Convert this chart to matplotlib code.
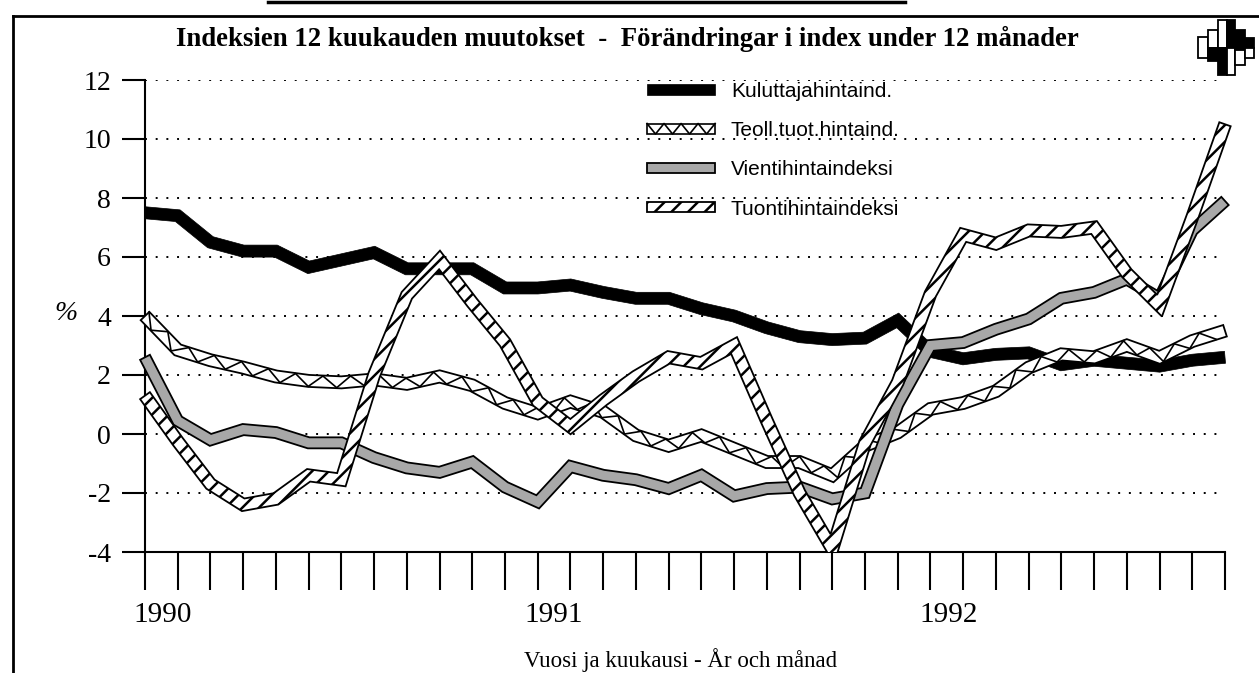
import numpy as np
import matplotlib
matplotlib.use("Agg")
import matplotlib.pyplot as plt
from matplotlib.patches import PathPatch, Rectangle
from matplotlib.path import Path
from matplotlib.lines import Line2D
from matplotlib.legend_handler import HandlerBase

plt.rcParams['axes.unicode_minus'] = False
plt.rcParams['hatch.linewidth'] = 1.8

# ---------------- data (Jan 1990 .. Oct 1992, monthly) ----------------
months = list(range(34))
year_labels = ['1990', '1991', '1992']
year_pos = [0.55, 12.5, 24.55]
y_ticks = [12, 10, 8, 6, 4, 2, 0, -2, -4]

series_names = ['Kuluttajahintaind.', 'Teoll.tuot.hintaind.',
                'Vientihintaindeksi', 'Tuontihintaindeksi']

kuluttaja = [7.5, 7.4, 6.5, 6.2, 6.2, 5.65, 5.9, 6.15, 5.6, 5.6, 5.6, 4.95,
             4.95, 5.05, 4.8, 4.6, 4.6, 4.25, 4.0, 3.6, 3.3, 3.2, 3.25, 3.85,
             2.8, 2.55, 2.7, 2.75, 2.35, 2.5, 2.4, 2.3, 2.5, 2.6]
teoll = [4.0, 2.85, 2.5, 2.25, 1.95, 1.8, 1.75, 1.85, 1.7, 1.95, 1.65, 1.05,
         0.7, 1.1, 0.75, -0.05, -0.4, -0.05, -0.5, -0.95, -0.95, -1.4, -0.4, 0.05,
         0.85, 1.05, 1.45, 2.25, 2.7, 2.6, 3.0, 2.6, 3.15, 3.5]
vienti = [2.6, 0.45, -0.2, 0.15, 0.05, -0.3, -0.3, -0.8, -1.15, -1.3, -0.95, -1.8,
          -2.3, -1.1, -1.4, -1.55, -1.85, -1.4, -2.1, -1.85, -1.8, -2.2, -2.0, 1.0,
          3.0, 3.1, 3.55, 3.9, 4.6, 4.8, 5.25, 4.6, 6.9, 7.9]
tuonti = [1.3, -0.25, -1.7, -2.4, -2.2, -1.4, -1.55, 2.0, 4.7, 5.9, 4.45, 3.1,
          1.1, 0.25, 1.15, 1.95, 2.6, 2.4, 3.0, 0.45, -2.0, -3.9, -0.3, 1.75,
          4.75, 6.75, 6.45, 6.9, 6.85, 7.0, 5.45, 4.35, 7.35, 10.5]

# ---------------- figure ----------------
W, H = 1259, 673
fig = plt.figure(figsize=(W / 100, H / 100), dpi=100)
fig.patch.set_facecolor('white')
ax = fig.add_axes([145 / W, 1 - 552 / H, 1080 / W, 472 / H])
ax.set_xlim(0, 33)
ax.set_ylim(-4, 12)

SERIF = ['Liberation Serif', 'DejaVu Serif']
SANS = ['Liberation Sans', 'DejaVu Sans']

for s in ['top', 'right']:
    ax.spines[s].set_visible(False)
ax.spines['left'].set_linewidth(1.5)
ax.spines['bottom'].set_linewidth(1.5)

ax.set_yticks(y_ticks)
ax.set_yticklabels([str(v) for v in y_ticks], fontfamily=SERIF, fontsize=20)
ax.tick_params(axis='y', direction='out', length=16.5, width=1.5, pad=8)
ax.set_xticks(year_pos)
ax.set_xticklabels(year_labels, fontfamily=SERIF, fontsize=21)
ax.set_xticks(months, minor=True)
ax.tick_params(axis='x', which='major', length=0, pad=36)
ax.tick_params(axis='x', which='minor', direction='out', length=27, width=1.5)
ax.yaxis.grid(True, linestyle=(0, (1, 4.5)), linewidth=1.4, color='black')
ax.set_axisbelow(True)

# clip region: whole axes, open to the left/right/top, closed at the -4 baseline
clip_box = Rectangle((-0.03, 0.0), 1.06, 1.3, transform=ax.transAxes,
                     facecolor='none', edgecolor='none')


def ribbon_geometry(xs, ys, width_px):
    P = ax.transData.transform(np.column_stack([xs, ys]))
    d = np.diff(P, axis=0)
    L = np.hypot(d[:, 0], d[:, 1])
    t = d / L[:, None]
    n = np.column_stack([-t[:, 1], t[:, 0]])
    h = width_px / 2.0
    off = np.empty_like(P)
    off[0] = n[0] * h
    off[-1] = n[-1] * h
    for k in range(1, len(P) - 1):
        m = n[k - 1] + n[k]
        mn = np.hypot(m[0], m[1])
        m = n[k] if mn < 1e-9 else m / mn
        c = max(float(np.dot(m, n[k])), 0.4)
        off[k] = m * h / c
    poly = np.vstack([P + off, (P - off)[::-1], (P + off)[:1]])
    return P, d, L, off, poly


inv = ax.transData.inverted()


def draw_ribbon(xs, ys, width_px, fc, hatch=None, z=3, lw=1.3, ec='black'):
    P, d, L, off, poly = ribbon_geometry(xs, ys, width_px)
    path = Path(inv.transform(poly), closed=True)
    patch = PathPatch(path, facecolor=fc, edgecolor=ec, hatch=hatch,
                      linewidth=lw, zorder=z, joinstyle='miter')
    ax.add_patch(patch)
    patch.set_clip_path(clip_box)
    return patch, (P, d, L, off)


def draw_zigzag(geom, half_period, z, lw=1.2):
    P, d, L, off = geom
    cum = np.concatenate([[0], np.cumsum(L)])
    ss = np.arange(0, cum[-1], half_period)
    pts = []
    for j, s in enumerate(ss):
        k = min(np.searchsorted(cum, s, side='right') - 1, len(L) - 1)
        f = (s - cum[k]) / L[k]
        c = P[k] + f * d[k]
        o = off[k] * (1 - f) + off[k + 1] * f
        sign = 1 if j % 2 == 0 else -1
        pts.append(c + sign * o * 0.92)
    pts = inv.transform(np.array(pts))
    zl = Line2D(pts[:, 0], pts[:, 1], color='black', lw=lw, zorder=z,
                solid_joinstyle='miter')
    ax.add_line(zl)
    zl.set_clip_path(clip_box)
    return zl


cpi_patch, _ = draw_ribbon(months, kuluttaja, 12, 'black', z=3, lw=0.5)
teoll_patch, teoll_geom = draw_ribbon(months, teoll, 12, 'white', z=4, lw=1.3)
teoll_zig = draw_zigzag(teoll_geom, 14, z=4.1)
vienti_patch, _ = draw_ribbon(months, vienti, 11, '#a8a8a8', z=5, lw=1.3)
tuonti_patch, _ = draw_ribbon(months, tuonti, 12, 'white', hatch='//', z=6, lw=1.3)


class HandlerZigzag(HandlerBase):
    def create_artists(self, legend, orig_handle, xdescent, ydescent,
                       width, height, fontsize, trans):
        x0, y0 = -xdescent, -ydescent
        rect = Rectangle((x0, y0), width, height, facecolor='white',
                         edgecolor='black', lw=1.2, transform=trans)
        n = 4
        zx = np.linspace(x0, x0 + width, 2 * n + 1)
        zy = np.where(np.arange(2 * n + 1) % 2 == 0, y0 + height, y0)
        line = Line2D(zx, zy, color='black', lw=1.2, transform=trans)
        return [rect, line]


leg = ax.legend([cpi_patch, teoll_zig, vienti_patch, tuonti_patch], series_names,
                handler_map={teoll_zig: HandlerZigzag()},
                loc='upper left', bbox_to_anchor=(647 / W, 1 - 82 / H),
                bbox_transform=fig.transFigure, frameon=False, borderpad=0,
                borderaxespad=0, handlelength=3.27, handleheight=0.4,
                handletextpad=0.75, labelspacing=0.97,
                prop={'family': SANS, 'size': 15})
leg.set_zorder(10)

# ---------------- texts ----------------
fig.text(627 / W, 1 - 39 / H,
         'Indeksien 12 kuukauden muutokset  -  Förändringar i index under 12 månader',
         ha='center', va='center', fontfamily=SERIF, fontweight='bold', fontsize=19.3)
fig.text(66 / W, 1 - 314 / H, '%', ha='center', va='center',
         fontfamily=SERIF, fontstyle='italic', fontsize=20)
fig.text(681 / W, 1 - 660 / H, 'Vuosi ja kuukausi - År och månad',
         ha='center', va='center', fontfamily=SERIF, fontsize=16.5)

# ---------------- frame & logo decoration ----------------
fig.add_artist(Line2D([13 / W, 13 / W], [0, 1 - 16 / H], transform=fig.transFigure,
                      color='black', lw=2))
fig.add_artist(Line2D([13 / W, 1], [1 - 16 / H, 1 - 16 / H], transform=fig.transFigure,
                      color='black', lw=2))
fig.add_artist(Line2D([268 / W, 905 / W], [1 - 1.5 / H, 1 - 1.5 / H],
                      transform=fig.transFigure, color='black', lw=2.5))


def logo_rect(x0, y0, x1, y1, fc):
    fig.add_artist(Rectangle((x0 / W, 1 - y1 / H), (x1 - x0) / W, (y1 - y0) / H,
                             transform=fig.transFigure, facecolor=fc,
                             edgecolor='black', lw=1.3))


logo_rect(1198, 37, 1208, 58, 'white')
logo_rect(1208, 30, 1218, 48, 'white')
logo_rect(1208, 48, 1218, 61, 'black')
logo_rect(1218, 20, 1227, 48, 'white')
logo_rect(1218, 48, 1227, 75, 'black')
logo_rect(1227, 20, 1235, 48, 'black')
logo_rect(1227, 48, 1235, 75, 'white')
logo_rect(1235, 30, 1245, 50, 'black')
logo_rect(1235, 50, 1245, 65, 'white')
logo_rect(1245, 38, 1254, 48, 'black')
logo_rect(1245, 48, 1254, 58, 'white')

fig.savefig('out.png', dpi=100, facecolor='white')
